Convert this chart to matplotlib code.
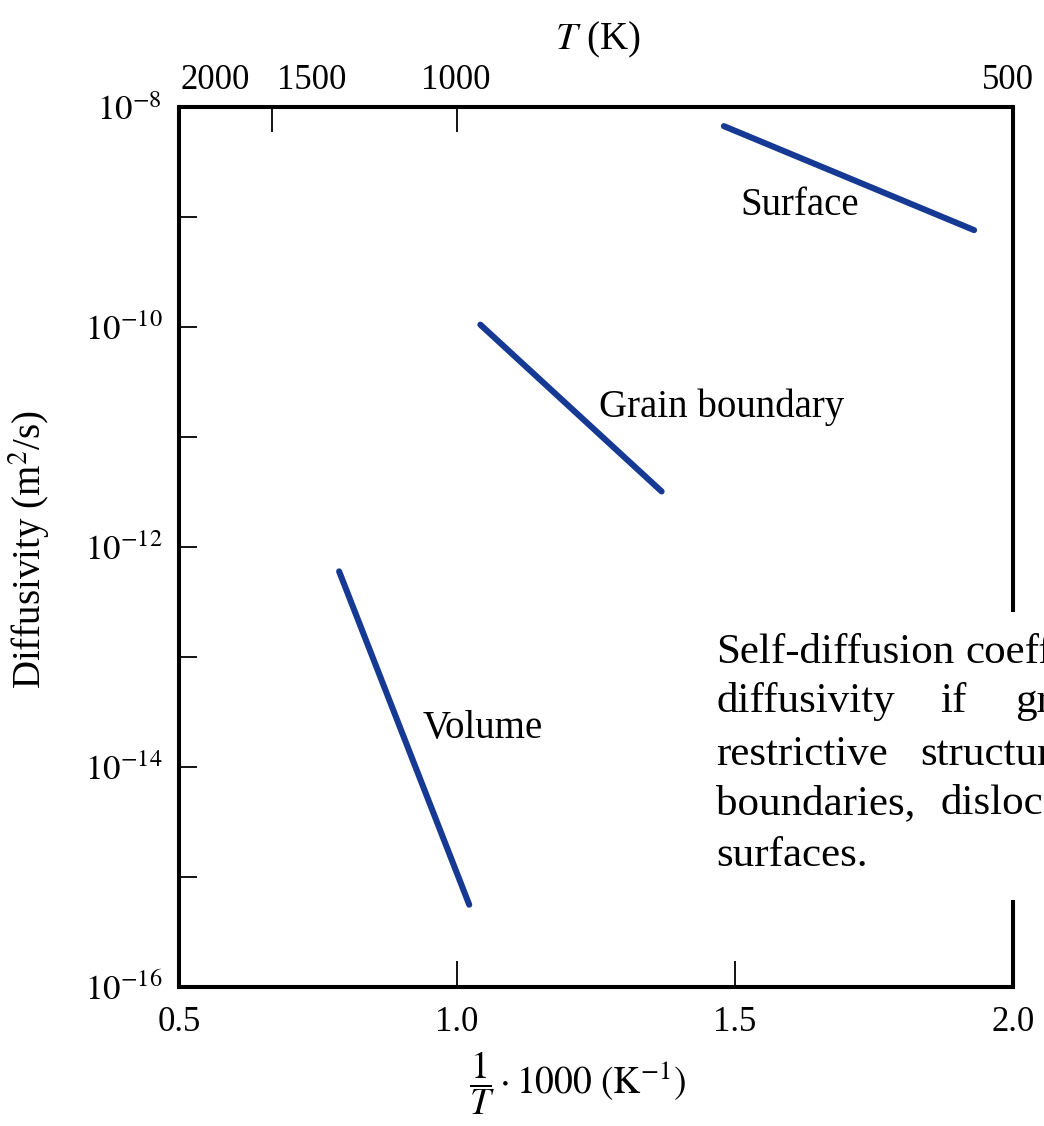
import matplotlib
matplotlib.use('Agg')
import matplotlib.pyplot as plt
import matplotlib.transforms as mtransforms
from matplotlib.ticker import FixedLocator, FixedFormatter, NullFormatter
from matplotlib.patches import Rectangle

plt.rcParams['font.family'] = ['Liberation Serif', 'DejaVu Serif']
plt.rcParams['mathtext.fontset'] = 'stix'

# ---------------- data ----------------
surface_x = [1.48, 1.93]
surface_D = [6.7e-9, 7.6e-10]
grain_x = [1.042, 1.368]
grain_D = [1.05e-10, 3.2e-12]
volume_x = [0.788, 1.022]
volume_D = [6.0e-13, 5.6e-16]

x_ticks = [0.5, 1.0, 1.5, 2.0]
x_ticklabels = ['0.5', '1.0', '1.5', '2.0']
y_major = [1e-16, 1e-14, 1e-12, 1e-10, 1e-8]
y_major_labels = [r'$10^{-16}$', r'$10^{-14}$', r'$10^{-12}$', r'$10^{-10}$', r'$10^{-8}$']
y_minor = [1e-15, 1e-13, 1e-11, 1e-9]
T_ticks = [2000, 1500, 1000, 500]
T_ticklabels = ['2000', '1500', '1000', '500']

note_lines = [
    ["Self-diffusion", "coefficient"],
    ["diffusivity", "if", "grain"],
    ["restrictive", "structures"],
    ["boundaries,", "dislocations"],
    ["surfaces."],
]

# ---------------- layout ----------------
W, H = 1044, 1126
fig = plt.figure(figsize=(W / 100, H / 100), dpi=100)
L, R, T, B = 179, 1013, 107, 987
ax = fig.add_axes([L / W, 1 - B / H, (R - L) / W, (B - T) / H])

line_color = '#163a94'
lw = 4.4
ax.plot(surface_x, surface_D, color=line_color, lw=lw, solid_capstyle='round')
ax.plot(grain_x, grain_D, color=line_color, lw=lw, solid_capstyle='round')
ax.plot(volume_x, volume_D, color=line_color, lw=lw, solid_capstyle='round')

ax.set_yscale('log')
ax.set_xlim(0.5, 2.0)
ax.set_ylim(1e-16, 1e-8)

lab_fs = 28
ax.text(1.51, 1.05e-9, 'Surface', fontsize=lab_fs, va='baseline', ha='left')
ax.text(1.2545, 1.52e-11, 'Grain boundary', fontsize=lab_fs, va='baseline', ha='left')
ax.text(0.939, 1.83e-14, 'Volume', fontsize=lab_fs, va='baseline', ha='left')

tick_fs = 25
ax.xaxis.set_major_locator(FixedLocator(x_ticks))
ax.xaxis.set_major_formatter(FixedFormatter(x_ticklabels))
ax.yaxis.set_major_locator(FixedLocator(y_major))
ax.yaxis.set_major_formatter(FixedFormatter(y_major_labels))
ax.yaxis.set_minor_locator(FixedLocator(y_minor))
ax.yaxis.set_minor_formatter(NullFormatter())
ax.xaxis.set_minor_locator(FixedLocator([]))

ax.tick_params(axis='x', which='major', direction='in', length=19, width=1.3,
               labelsize=tick_fs, pad=14, top=False)
ax.tick_params(axis='y', which='both', direction='in', length=13, width=1.3,
               labelsize=tick_fs, pad=12, right=False)

for sp in ax.spines.values():
    sp.set_linewidth(2.9)

ax.set_xlabel(r'$\dfrac{1}{T}\cdot 1000\ (\mathrm{K}^{-1})$', fontsize=27)
ax.xaxis.set_label_coords((577 - L) / (R - L), -(1049 - B) / (B - T))
ax.set_ylabel(r'Diffusivity (m$^2$/s)', fontsize=28)
ax.yaxis.set_label_coords(-(L - 52) / (R - L), 0.497)

# top temperature axis
ax2 = ax.twiny()
ax2.set_xlim(ax.get_xlim())
ax2.patch.set_visible(False)
ax2.xaxis.set_major_locator(FixedLocator([1000.0 / t for t in T_ticks]))
ax2.xaxis.set_major_formatter(FixedFormatter(T_ticklabels))
ax2.tick_params(axis='x', which='major', direction='in', length=18, width=1.3,
                labelsize=tick_fs, pad=7)
for sp in ax2.spines.values():
    sp.set_linewidth(2.9)
ax2.set_xlabel(r'$T$ (K)', fontsize=28)
ax2.xaxis.set_label_coords((598 - L) / (R - L), 1 + (T - 49) / (B - T))

fig.canvas.draw()
label_shift_px = [36, 40, -1, -5]
for lab, dx in zip(ax2.xaxis.get_majorticklabels(), label_shift_px):
    lab.set_transform(lab.get_transform() +
                      mtransforms.ScaledTranslation(dx / 100, 0, fig.dpi_scale_trans))

# note box covering the right part
rect = Rectangle((693 / W, 1 - 900 / H), (W - 693) / W + 0.01, (900 - 612) / H,
                 transform=fig.transFigure, facecolor='white', edgecolor='none',
                 zorder=10)
fig.add_artist(rect)
word_x = [[716, 965], [716, 940, 1015], [716, 920], [716, 940], [716]]
baselines = [663, 712, 765, 814, 866]
for words, xs, yb in zip(note_lines, word_x, baselines):
    for w, xp in zip(words, xs):
        fig.text(xp / W, 1 - yb / H, w, fontsize=31, va='baseline', ha='left',
                 zorder=11)

fig.savefig('out.png', dpi=100)
